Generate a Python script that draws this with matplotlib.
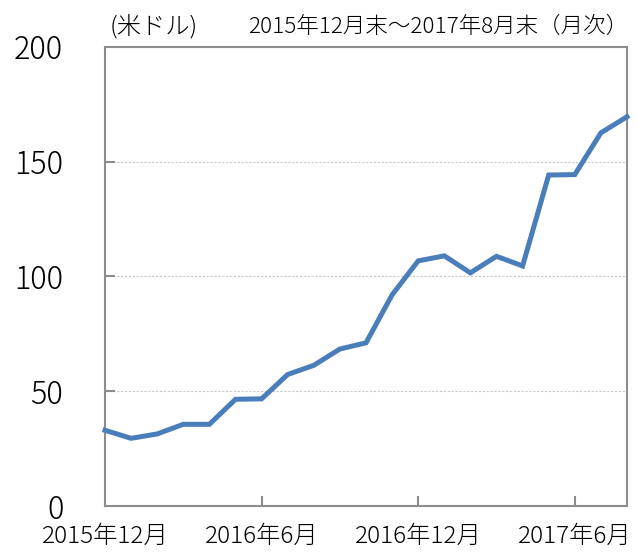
import matplotlib
matplotlib.use("Agg")
import matplotlib.pyplot as plt

plt.rcParams['font.family'] = ['Noto Sans CJK JP', 'DejaVu Sans']

months = ["2015-12", "2016-01", "2016-02", "2016-03", "2016-04", "2016-05", "2016-06",
          "2016-07", "2016-08", "2016-09", "2016-10", "2016-11", "2016-12",
          "2017-01", "2017-02", "2017-03", "2017-04", "2017-05", "2017-06",
          "2017-07", "2017-08"]
values = [33.0, 29.5, 31.4, 35.6, 35.6, 46.5, 46.7, 57.3, 61.3, 68.4, 71.1,
          92.0, 106.8, 109.0, 101.6, 108.8, 104.6, 144.2, 144.4, 162.6, 169.6]
xtick_months = ["2015-12", "2016-06", "2016-12", "2017-06"]
xtick_labels = ["2015年12月", "2016年6月", "2016年12月", "2017年6月"]
yticks = [0, 50, 100, 150, 200]
unit_label = "(米ドル)"
period_label = "2015年12月末～2017年8月末（月次）"

fig = plt.figure(figsize=(6.37, 5.52), dpi=100)
ax = fig.add_axes([0.1648, 0.0833, 0.8195, 0.8316])

xs = list(range(len(months)))
ax.plot(xs, values, color="#4A7EBB", linewidth=3.6, solid_joinstyle="miter", clip_on=False, zorder=3)

ax.set_xlim(0, len(months) - 1)
ax.set_ylim(0, 200)

spine_color = "#8C8C8C"
for s in ax.spines.values():
    s.set_color(spine_color)
    s.set_linewidth(1.5)

for y in [50, 100, 150]:
    ax.axhline(y, color="#C8C8C8", linewidth=0.8, linestyle=(0, (2, 1.5)), zorder=1)

ax.set_yticks(yticks)
ax.set_yticklabels([str(v) for v in yticks], fontsize=22, fontweight='light')
ax.tick_params(axis='y', direction='in', length=7, width=1.5, color=spine_color, pad=30)
for lbl in ax.get_yticklabels():
    lbl.set_horizontalalignment('right')
for i, t in enumerate(ax.yaxis.get_major_ticks()):
    if yticks[i] in (0, 200):
        t.tick1line.set_visible(False)

xt = [months.index(m) for m in xtick_months]
ax.set_xticks(xt)
ax.set_xticklabels(xtick_labels, fontsize=17.5, fontweight='light')
ax.tick_params(axis='x', direction='in', length=7, width=1.5, color=spine_color, pad=13)
ax.xaxis.get_major_ticks()[0].tick1line.set_visible(False)

fig.text(110 / 637, 1 - 27 / 552, unit_label, fontsize=17.5, ha='left', va='center', fontweight='light')
fig.text(628 / 637, 1 - 27 / 552, period_label, fontsize=16.2, ha='right', va='center', fontweight='light')

fig.savefig("out.png", dpi=100)
